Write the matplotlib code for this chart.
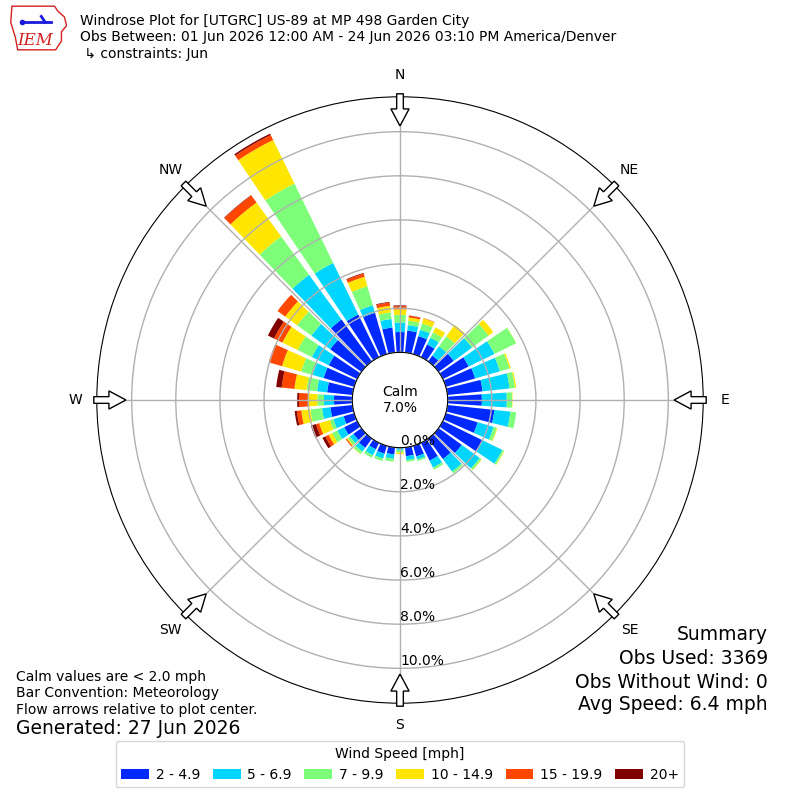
import numpy as np
import matplotlib
matplotlib.use("Agg")
import matplotlib.pyplot as plt
from matplotlib.patches import FancyArrow, Patch, Polygon

# direction bins (deg, meteorological) and speed classes
directions = np.arange(0, 360, 10)
speed_bins = ["2 - 4.9", "5 - 6.9", "7 - 9.9", "10 - 14.9", "15 - 19.9", "20+"]
compass = ["N", "NE", "E", "SE", "S", "SW", "W", "NW"]
ring_values = [0, 2, 4, 6, 8, 10]

# frequency [%] per direction bin
pct_2_5 = [0.92, 1.00, 0.85, 0.64, 0.33, 0.85, 1.30, 1.38, 1.60, 1.55, 2.14, 1.50,
           2.00, 1.30, 1.15, 0.90, 0.50, 0.40, 0.03, 0.32, 0.37, 0.33, 0.52, 0.45,
           0.65, 0.50, 1.01, 0.83, 1.16, 1.44, 1.43, 1.75, 2.35, 2.15, 1.95, 1.14]
pct_5_7 = [0.43, 0.25, 0.30, 0.34, 0.52, 1.02, 1.30, 1.17, 1.23, 1.13, 0.73, 0.75,
           1.00, 1.00, 0.70, 0.35, 0.15, 0.18, 0.07, 0.20, 0.23, 0.30, 0.21, 0.20,
           0.35, 0.48, 0.38, 0.46, 0.46, 0.52, 0.85, 1.05, 2.50, 2.60, 0.35, 0.39]
pct_7_10 = [0.35, 0.20, 0.30, 0.27, 0.56, 0.93, 1.09, 0.45, 0.25, 0.24, 0.26, 0.15,
            0.08, 0.10, 0.10, 0.10, 0.07, 0.08, 0.12, 0.13, 0.12, 0.12, 0.13, 0.13,
            0.26, 0.17, 0.53, 0.30, 0.48, 0.54, 0.72, 0.80, 2.15, 4.00, 0.90, 0.30]
pct_10_15 = [0.25, 0.15, 0.23, 0.25, 0.64, 0.27, 0.01, 0.06, 0.05, 0.02, 0.00, 0.03,
             0.02, 0.02, 0.00, 0.00, 0.00, 0.00, 0.08, 0.00, 0.00, 0.00, 0.02, 0.05,
             0.18, 0.50, 0.42, 0.42, 0.55, 0.90, 0.77, 0.67, 1.90, 2.20, 0.45, 0.30]
pct_15_20 = [0.14, 0.08, 0.02, 0.00, 0.00, 0.00, 0.00, 0.00, 0.00, 0.00, 0.00, 0.00,
             0.00, 0.00, 0.00, 0.00, 0.00, 0.00, 0.00, 0.00, 0.00, 0.00, 0.00, 0.05,
             0.17, 0.15, 0.20, 0.41, 0.58, 0.63, 0.42, 0.43, 0.40, 0.25, 0.15, 0.15]
pct_20up = [0.04, 0.01, 0.00, 0.00, 0.00, 0.00, 0.00, 0.00, 0.00, 0.00, 0.00, 0.00,
            0.00, 0.00, 0.00, 0.00, 0.00, 0.00, 0.00, 0.00, 0.00, 0.00, 0.00, 0.00,
            0.14, 0.24, 0.10, 0.08, 0.25, 0.00, 0.31, 0.00, 0.02, 0.07, 0.03, 0.03]

calm_pct = 7.0
obs_used = 3369
obs_without_wind = 0
avg_speed = 6.4

series = [pct_2_5, pct_5_7, pct_7_10, pct_10_15, pct_15_20, pct_20up]
colors = plt.get_cmap("jet")(np.linspace(1 / 6, 1, 6))

fig = plt.figure(figsize=(8, 8), dpi=100)
ax = fig.add_axes([0.121, 0.121, 0.758, 0.758], projection="polar")
ax.set_theta_zero_location("N")
ax.set_theta_direction(-1)
ax.set_rorigin(-2.16)
ax.set_ylim(0, 11.58)

theta = np.deg2rad(directions)
width = np.deg2rad(8)
bottom = np.zeros(len(directions))
for vals, c in zip(series, colors):
    vals = np.array(vals)
    ax.bar(theta, vals, width=width, bottom=bottom, color=c, linewidth=0)
    bottom = bottom + vals

# grid / ticks
ax.set_yticks(ring_values)
ax.set_yticklabels([])
ax.set_xticks(np.deg2rad(np.arange(0, 360, 45)))
ax.set_xticklabels(compass, fontsize=10)
ax.tick_params(axis="x", pad=5)
ax.grid(True, color="#b0b0b0", linewidth=1)
for v in ring_values:
    ax.text(np.pi, v, f"{v:.1f}%", ha="left", va="bottom", fontsize=10, zorder=6)

ax.text(0.5, 0.5, f"Calm\n{calm_pct:.1f}%", transform=ax.transAxes,
        ha="center", va="center", fontsize=10)

# flow arrows pointing towards the centre
for ang in np.deg2rad(np.arange(0, 360, 45)):
    s, c = np.sin(ang), np.cos(ang)
    arr = FancyArrow(0.5 + 0.505 * s, 0.5 + 0.505 * c, -0.053 * s, -0.053 * c,
                     width=0.011, head_width=0.03, head_length=0.028,
                     length_includes_head=True, transform=ax.transAxes,
                     fc="white", ec="black", lw=1, clip_on=False, zorder=7)
    ax.add_artist(arr)

# header
fig.text(0.1, 1 - 20.5 / 800, "Windrose Plot for [UTGRC] US-89 at MP 498 Garden City",
         fontsize=10, va="center")
fig.text(0.1, 1 - 37.5 / 800,
         "Obs Between: 01 Jun 2026 12:00 AM - 24 Jun 2026 03:10 PM America/Denver",
         fontsize=10, va="center")
fig.text(0.1, 1 - 54 / 800, " \u21b3 constraints: Jun", fontsize=10, va="center")

# rough IEM logo
lax = fig.add_axes([0.012, 0.936, 0.072, 0.058])
lax.set_xlim(0, 1)
lax.set_ylim(0, 1)
lax.axis("off")
iowa = [(0.04, 0.97), (0.78, 0.97), (0.84, 0.86), (0.95, 0.74), (0.99, 0.55),
        (0.9, 0.42), (0.9, 0.22), (0.8, 0.03), (0.14, 0.03), (0.1, 0.3), (0.02, 0.62)]
lax.add_patch(Polygon(iowa, closed=True, fill=False, ec="#d42020", lw=1))
lax.plot([0.22, 0.72], [0.62, 0.62], color="#1a1adc", lw=2)
lax.plot([0.55, 0.62], [0.75, 0.62], color="#1a1adc", lw=2)
lax.plot([0.22], [0.62], "o", color="#1a1adc", ms=3)
lax.text(0.45, 0.24, "IEM", color="#d42020", fontsize=12, style="italic",
         family="DejaVu Serif", ha="center", va="center")

# footer notes
fig.text(0.02, 1 - 677 / 800, "Calm values are < 2.0 mph", fontsize=10, va="center")
fig.text(0.02, 1 - 693.5 / 800, "Bar Convention: Meteorology", fontsize=10, va="center")
fig.text(0.02, 1 - 710 / 800, "Flow arrows relative to plot center.", fontsize=10, va="center")
fig.text(0.02, 1 - 729 / 800, "Generated: 27 Jun 2026", fontsize=13.5, va="center")

fig.text(0.96, 1 - 635 / 800, "Summary", fontsize=13.5, ha="right", va="center")
fig.text(0.96, 1 - 659 / 800, f"Obs Used: {obs_used}", fontsize=13.5, ha="right", va="center")
fig.text(0.96, 1 - 682 / 800, f"Obs Without Wind: {obs_without_wind}", fontsize=13.5,
         ha="right", va="center")
fig.text(0.96, 1 - 705 / 800, f"Avg Speed: {avg_speed} mph", fontsize=13.5,
         ha="right", va="center")

handles = [Patch(facecolor=c) for c in colors]
fig.legend(handles, speed_bins, loc="lower center", bbox_to_anchor=(0.5, 0.007),
           ncol=6, title="Wind Speed [mph]", fontsize=10, title_fontsize=10,
           handletextpad=0.5, columnspacing=0.9)

fig.savefig("out.png", dpi=100)
